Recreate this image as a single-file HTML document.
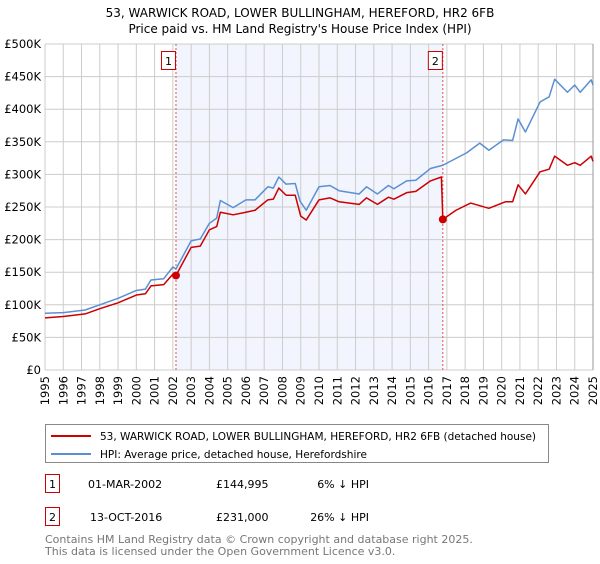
<!DOCTYPE html>
<html><head><meta charset="utf-8">
<style>
body{margin:0;background:#fff;font-family:"DejaVu Sans","Liberation Sans",sans-serif;}
svg text{font-family:"DejaVu Sans","Liberation Sans",sans-serif;}
</style></head>
<body>
<svg id="chart" width="600" height="560" viewBox="0 0 600 560" xmlns="http://www.w3.org/2000/svg">
<text x="300" y="17" text-anchor="middle" font-size="12" fill="#000">53, WARWICK ROAD, LOWER BULLINGHAM, HEREFORD, HR2 6FB</text>
<text x="300" y="33" text-anchor="middle" font-size="12" fill="#000">Price paid vs. HM Land Registry's House Price Index (HPI)</text>
<g id="plot"></g>
<g>
<rect x="45.5" y="424.5" width="503" height="38" fill="#fff" stroke="#888"/>
<line x1="51" y1="436" x2="91" y2="436" stroke="#cc0000" stroke-width="2"/>
<text x="100" y="440" font-size="10.5" textLength="436" lengthAdjust="spacingAndGlyphs">53, WARWICK ROAD, LOWER BULLINGHAM, HEREFORD, HR2 6FB (detached house)</text>
<line x1="51" y1="454" x2="91" y2="454" stroke="#5b8fd4" stroke-width="2"/>
<text x="100" y="458" font-size="10.5" textLength="267" lengthAdjust="spacingAndGlyphs">HPI: Average price, detached house, Herefordshire</text>
</g>
<g>
<rect x="45.5" y="474.5" width="14" height="18" fill="#fff" stroke="#cc0000"/>
<text x="52.5" y="488" text-anchor="middle" font-size="11">1</text>
<text x="88" y="488" font-size="11">01-MAR-2002</text>
<text x="216" y="488" font-size="11">£144,995</text>
<text x="369" y="488" text-anchor="end" font-size="11">6% ↓ HPI</text>
<rect x="45.5" y="507.5" width="14" height="18" fill="#fff" stroke="#cc0000"/>
<text x="52.5" y="521" text-anchor="middle" font-size="11">2</text>
<text x="90" y="521" font-size="11">13-OCT-2016</text>
<text x="216" y="521" font-size="11">£231,000</text>
<text x="369" y="521" text-anchor="end" font-size="11">26% ↓ HPI</text>
</g>
<text x="45" y="543" font-size="11" fill="#777">Contains HM Land Registry data © Crown copyright and database right 2025.</text>
<text x="45" y="555" font-size="11" fill="#777">This data is licensed under the Open Government Licence v3.0.</text>
</svg>
<script>
const hpiDates=[1995,1996,1997.2,1998,1999,2000,2000.5,2000.8,2001.5,2002,2002.17,2003,2003.5,2004,2004.4,2004.6,2005.3,2006,2006.5,2007.2,2007.5,2007.8,2008.2,2008.7,2008.96,2009.3,2010,2010.6,2011.1,2012.2,2012.6,2013.2,2013.8,2014.1,2014.8,2015.3,2016.1,2016.78,2018.08,2018.8,2019.3,2020.1,2020.6,2020.9,2021.3,2022.1,2022.6,2022.9,2023.6,2024,2024.3,2024.9,2025];
const hpiValues=[87,88,92,100,110,122,124,138,140,158,155,198,201,225,233,260,249,261,261,281,279,296,285,286,259,245,281,283,275,270,281,270,283,278,290,291,309,314,333,348,337,353,352,385,365,411,419,446,426,437,426,445,437];
const redDates=[1995,1996,1997.2,1998,1999,2000,2000.5,2000.8,2001.5,2002,2002.17,2003,2003.5,2004,2004.4,2004.6,2005.3,2006,2006.5,2007.2,2007.5,2007.8,2008.2,2008.7,2009.0,2009.3,2010,2010.6,2011.1,2012.2,2012.6,2013.2,2013.8,2014.1,2014.8,2015.3,2016.1,2016.7,2016.78,2017.5,2018.3,2019.3,2020.2,2020.6,2020.9,2021.3,2022.1,2022.6,2022.9,2023.6,2024,2024.3,2024.9,2025];
const redValues=[80,82,86,94,103,115,117,129,131,147,145,188,190,215,220,242,238,242,245,261,262,279,268,268,236,230,261,264,258,254,264,254,265,262,272,274,290,296,231,245,256,248,258,258,284,270,304,308,328,314,318,314,328,320];
const sales=[{n:"1",date:2002.17,value:144.995},{n:"2",date:2016.78,value:231}];
const yTicks=[0,50,100,150,200,250,300,350,400,450,500];
const yTickLabels=["£0","£50K","£100K","£150K","£200K","£250K","£300K","£350K","£400K","£450K","£500K"];
const xYears=[1995,1996,1997,1998,1999,2000,2001,2002,2003,2004,2005,2006,2007,2008,2009,2010,2011,2012,2013,2014,2015,2016,2017,2018,2019,2020,2021,2022,2023,2024,2025];

const X0=45,X1=593,Y0=370,Y1=44;
const xs=t=>X0+(t-1995)/30*(X1-X0);
const ys=v=>Y0-v/500*(Y0-Y1);
const NS="http://www.w3.org/2000/svg";
const plot=document.getElementById('plot');
function mk(tag,attrs,parent){const e=document.createElementNS(NS,tag);for(const k in attrs)e.setAttribute(k,attrs[k]);(parent||plot).appendChild(e);return e;}

let r=mk('rect',{x:xs(sales[0].date),y:Y1,width:xs(sales[1].date)-xs(sales[0].date),height:Y0-Y1,fill:'#f2f5fd'});



yTicks.forEach((v,i)=>{
  let l=mk('line',{x1:X0,x2:X1,y1:ys(v),y2:ys(v),stroke:'#cccccc','stroke-width':1});
  
  
  let t=mk('text',{x:X0-4,y:ys(v)+4,'text-anchor':'end','font-size':11.5});
  t.textContent=yTickLabels[i];
  
  
});
xYears.forEach(yr=>{
  let l=mk('line',{x1:xs(yr),x2:xs(yr),y1:Y1,y2:Y0,stroke:'#cccccc','stroke-width':1});
  
  
  let t=mk('text',{x:0,y:0,'text-anchor':'end','font-size':11.5,transform:`translate(${xs(yr)+4},${Y0+6}) rotate(-90)`});
  t.textContent=yr;
  
  
});
let ax=mk('line',{x1:X1,x2:X1,y1:Y1,y2:Y0,stroke:'#999','stroke-width':1});



sales.forEach(s=>{
  let l=mk('line',{x1:xs(s.date),x2:xs(s.date),y1:Y1,y2:Y0,stroke:'#e05050','stroke-width':1,'stroke-dasharray':'2,2'});
  
  
  let b=mk('rect',{x:xs(s.date)-14.5,y:51.5,width:14,height:18,fill:'#fff',stroke:'#cc0000'});
  
  
  let t=mk('text',{x:xs(s.date)-7.5,y:65,'text-anchor':'middle','font-size':11});
  t.textContent=s.n;
  
  
});

let hp=mk('polyline',{points:hpiDates.map((d,i)=>xs(d)+','+ys(hpiValues[i])).join(' '),fill:'none',stroke:'#5b8fd4','stroke-width':1.5,'stroke-linejoin':'round'});


let rp=mk('polyline',{points:redDates.map((d,i)=>xs(d)+','+ys(redValues[i])).join(' '),fill:'none',stroke:'#cc0000','stroke-width':1.5,'stroke-linejoin':'round'});


sales.forEach(s=>{
  let c=mk('circle',{cx:xs(s.date),cy:ys(s.value),r:4,fill:'#cc0000'});
  
  
});
</script>
</body></html>
